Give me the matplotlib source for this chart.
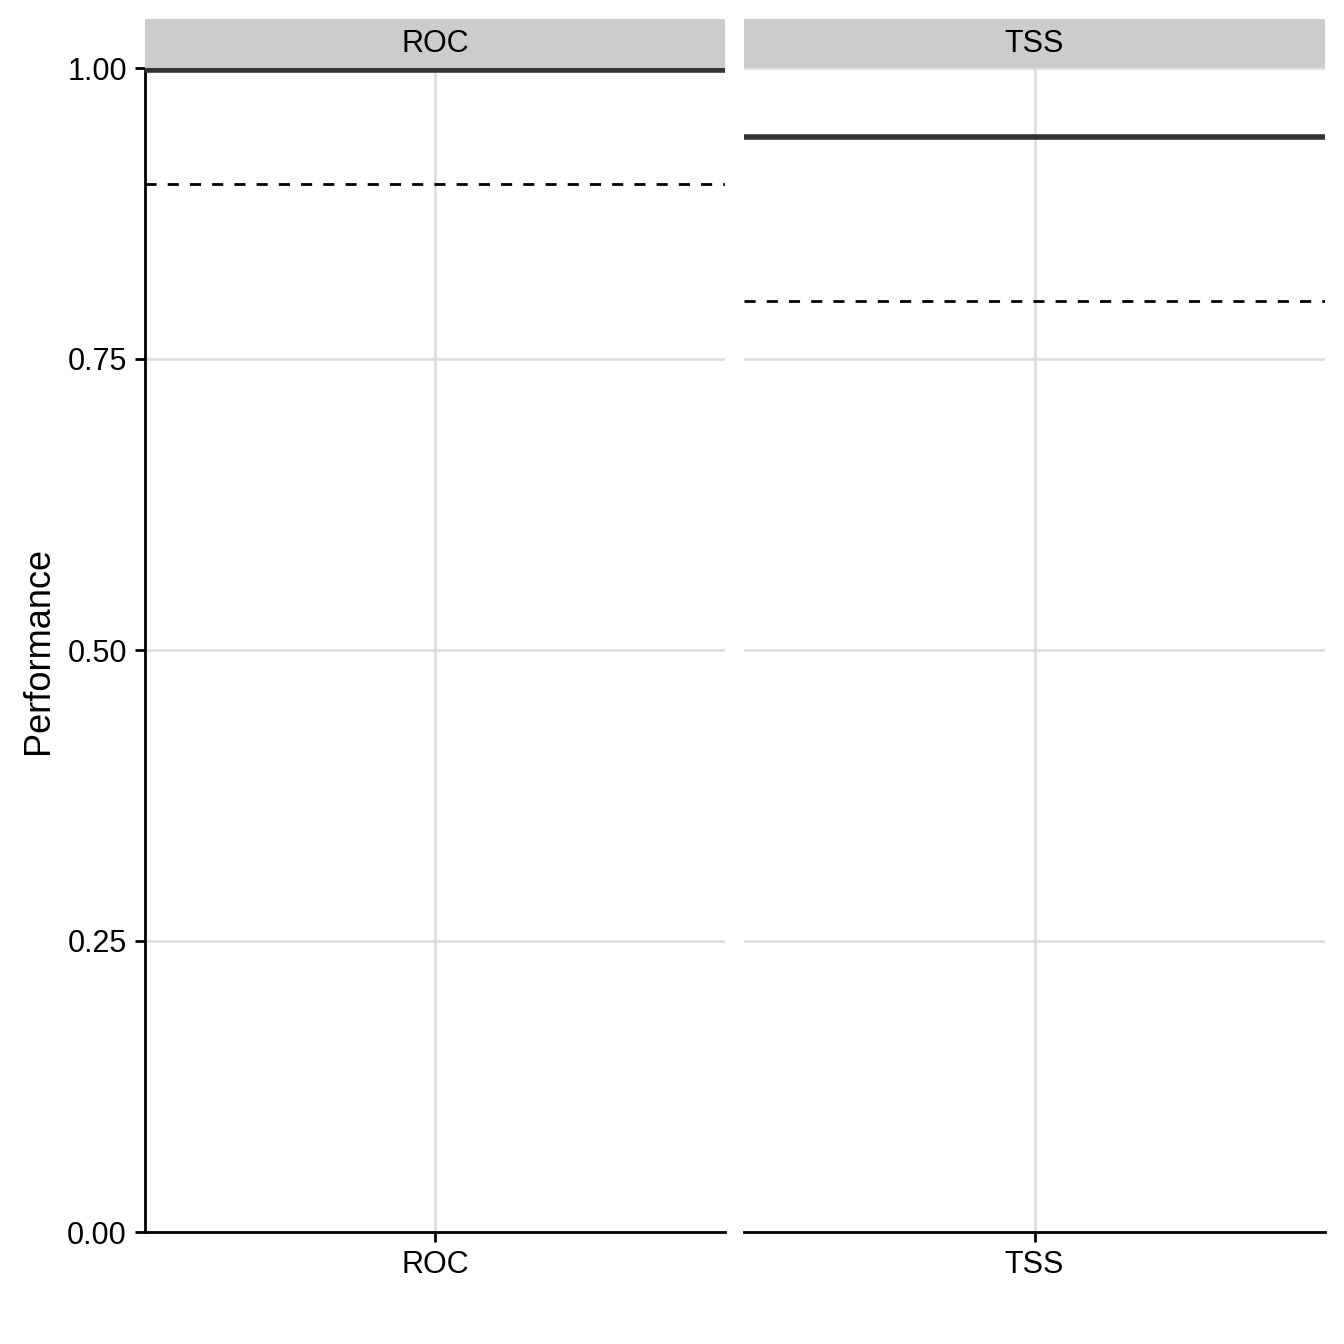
import matplotlib
matplotlib.use("Agg")
import matplotlib.pyplot as plt

plt.rcParams['font.family'] = ['Liberation Sans', 'DejaVu Sans']

metrics = ["ROC", "TSS"]
mean_perf = [0.998, 0.941]
threshold = [0.90, 0.80]
y_ticks = [0.00, 0.25, 0.50, 0.75, 1.00]
y_labels = ["0.00", "0.25", "0.50", "0.75", "1.00"]

fig = plt.figure(figsize=(6.72, 6.72), dpi=200)

W = 1344.0
panels = [(145, 725), (744, 1325)]
top_px, bot_px = 68, 1232
strip_top = 19

for i, (name, m, t) in enumerate(zip(metrics, mean_perf, threshold)):
    x0, x1 = panels[i]
    ax = fig.add_axes([x0 / W, 1 - bot_px / W, (x1 - x0) / W, (bot_px - top_px) / W])
    ax.set_xlim(0.4, 1.6)
    ax.set_ylim(0, 1)
    for s in ["top", "right"]:
        ax.spines[s].set_visible(False)
    ax.spines["bottom"].set_linewidth(1.0)
    ax.spines["left"].set_linewidth(1.0)
    ax.set_yticks(y_ticks)
    ax.set_xticks([1])
    ax.set_xticklabels([name])
    ax.grid(True, color="#DCDCDC", linewidth=0.9)
    ax.set_axisbelow(True)
    ax.tick_params(axis="both", length=3.5, width=1.0, labelsize=11, colors="black", pad=3)
    if i == 0:
        ax.set_yticklabels(y_labels)
        ax.set_ylabel("Performance", fontsize=13, labelpad=4)
    else:
        ax.spines["left"].set_visible(False)
        ax.tick_params(axis="y", left=False, labelleft=False)

    ax.axhline(m, color="#333333", linewidth=2.0, clip_on=False,
               solid_capstyle="butt", zorder=3)
    ax.axhline(t, color="black", linewidth=1.0, linestyle=(0, (4, 4)),
               dash_capstyle="butt", zorder=3)

    # facet strip
    sax = fig.add_axes([x0 / W, 1 - top_px / W, (x1 - x0) / W, (top_px - strip_top) / W])
    sax.set_facecolor("#CCCCCC")
    sax.set_xticks([])
    sax.set_yticks([])
    for s in sax.spines.values():
        s.set_visible(False)
    sax.text(0.5, 0.5, name, ha="center", va="center", fontsize=11, transform=sax.transAxes)

fig.savefig("out.png", dpi=200, facecolor="white")
